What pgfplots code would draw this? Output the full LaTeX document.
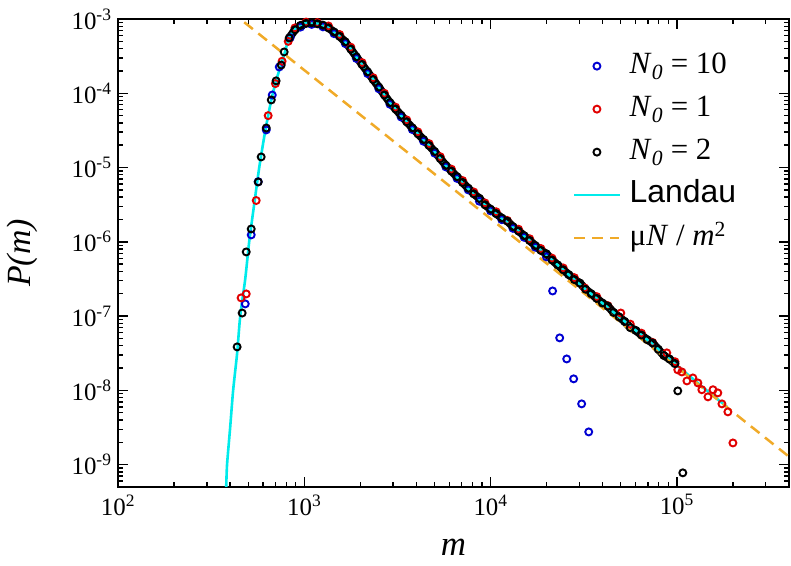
\documentclass[border=0pt]{standalone}
\usepackage{fontspec}
\setmainfont{Liberation Serif}
\setsansfont{Liberation Sans}
\usepackage{pgfplots}
\usepackage{pgfplotstable}
\pgfplotsset{compat=1.18}
\definecolor{cblue}{RGB}{0,0,210}
\definecolor{cred}{RGB}{225,0,0}
\definecolor{ccyan}{RGB}{0,235,235}
\definecolor{corange}{RGB}{240,170,40}

\pgfplotstableread[row sep=\\]{
m P\\
482 1.46e-7\\ 519 1.24e-6\\ 566 6.45e-6\\ 625 3.21e-5\\ 673 9.48e-5\\ 734 2.26e-4\\
840 5.6e-4\\ 955 7.79e-4\\ 1096 8.46e-4\\ 1259 7.85e-4\\ 1445 6.35e-4\\ 1660 4.67e-4\\
1905 2.94e-4\\ 2188 1.84e-4\\ 2512 1.15e-4\\ 2884 7.11e-5\\ 3311 4.79e-5\\ 3802 3.25e-5\\
4365 2.26e-5\\ 5012 1.56e-5\\ 5754 1.02e-5\\ 6607 7.14e-6\\ 7586 5.01e-6\\ 8710 3.52e-6\\
10000 2.61e-6\\ 11482 1.99e-6\\ 13183 1.52e-6\\ 15136 1.15e-6\\ 17378 8.46e-7\\ 19953 6.28e-7\\
21530 2.18e-7\\ 23500 5.09e-8\\ 25630 2.65e-8\\ 27930 1.43e-8\\ 30830 6.58e-9\\ 33650 2.76e-9\\
}\blue

\pgfplotstableread[row sep=\\]{
m P\\
458 1.76e-7\\ 488 1.99e-7\\ 552 3.6e-6\\ 640 5.0e-5\\ 700 1.35e-4\\ 760 2.7e-4\\ 820 5.0e-4\\
891 7.59e-4\\ 1023 9.1e-4\\ 1175 8.95e-4\\ 1349 8.05e-4\\ 1549 6.18e-4\\ 1778 4.17e-4\\
2042 2.59e-4\\ 2344 1.62e-4\\ 2692 1.00e-4\\ 3090 6.51e-5\\ 3548 4.38e-5\\ 4074 3.02e-5\\
4677 2.10e-5\\ 5370 1.40e-5\\ 6166 9.51e-6\\ 7079 6.68e-6\\ 8128 4.69e-6\\ 9333 3.34e-6\\
10715 2.54e-6\\ 12303 1.94e-6\\ 14125 1.48e-6\\ 16218 1.10e-6\\ 18621 8.13e-7\\ 21380 6.03e-7\\
24547 4.45e-7\\ 28184 3.29e-7\\ 31990 2.40e-7\\ 37154 1.83e-7\\ 42658 1.38e-7\\ 50000 1.10e-7\\
56234 7.80e-8\\ 64565 5.89e-8\\ 74131 4.42e-8\\ 88300 3.20e-8\\ 97724 2.43e-8\\
101150 1.89e-8\\ 106400 1.77e-8\\ 113240 1.34e-8\\ 121900 1.47e-8\\ 129700 1.26e-8\\
136200 1.02e-8\\ 146900 8.18e-9\\ 156300 1.02e-8\\ 165950 9.25e-9\\ 174600 6.58e-9\\
187900 5.14e-9\\ 200000 1.96e-9\\
}\red

\pgfplotstableread[row sep=\\]{
m P\\
830 5.55e-4\\ 891 7.16e-4\\ 955 8.20e-4\\ 1023 8.75e-4\\ 1096 8.91e-4\\ 1175 8.63e-4\\
1259 8.26e-4\\ 1349 7.59e-4\\ 1445 6.68e-4\\ 1549 5.83e-4\\ 1660 4.92e-4\\ 1778 3.93e-4\\
1905 3.09e-4\\ 2042 2.44e-4\\ 2188 1.94e-4\\ 2344 1.53e-4\\ 2512 1.21e-4\\ 2692 9.48e-5\\
2884 7.48e-5\\ 3090 6.14e-5\\ 3311 5.04e-5\\ 3548 4.13e-5\\ 3802 3.42e-5\\ 4074 2.85e-5\\
4365 2.38e-5\\ 4677 1.98e-5\\ 5012 1.64e-5\\ 5370 1.32e-5\\ 5754 1.07e-5\\ 6166 8.97e-6\\
6607 7.52e-6\\ 7079 6.30e-6\\ 7586 5.27e-6\\ 8128 4.42e-6\\ 8710 3.85e-6\\ 9333 3.15e-6\\
10000 2.75e-6\\ 10715 2.40e-6\\ 11482 2.09e-6\\ 12303 1.90e-6\\ 13183 1.60e-6\\ 14125 1.40e-6\\
15136 1.21e-6\\ 16218 1.04e-6\\ 17378 8.91e-7\\ 18621 7.67e-7\\ 19953 6.90e-7\\ 21380 5.69e-7\\
22909 4.89e-7\\ 24547 4.20e-7\\ 26303 3.61e-7\\ 28184 3.10e-7\\ 30200 2.78e-7\\ 32359 2.30e-7\\
34674 2.00e-7\\ 37154 1.73e-7\\ 39811 1.50e-7\\ 42658 1.36e-7\\ 45709 1.12e-7\\ 48978 9.75e-8\\
52481 8.47e-8\\ 56234 7.00e-8\\ 60256 6.40e-8\\ 64565 5.56e-8\\ 69183 4.83e-8\\ 74131 4.35e-8\\
79433 3.58e-8\\ 85114 2.95e-8\\ 91201 2.65e-8\\ 97724 2.29e-8\\
}\blackdense

\pgfplotstableread[row sep=\\]{
m P\\
436 3.85e-8\\ 464 1.10e-7\\ 488 7.31e-7\\ 519 1.49e-6\\ 566 6.40e-6\\ 587 1.39e-5\\
625 3.41e-5\\ 665 8.13e-5\\ 706 1.47e-4\\ 752 2.40e-4\\ 780 3.60e-4\\
101150 9.84e-9\\ 107650 7.76e-10\\
}\blackother

\pgfplotstableread[row sep=\\]{
m P\\
381 5.01e-10\\ 385 1.0e-9\\ 400 3.16e-9\\ 415 1.0e-8\\ 436 3.16e-8\\ 453 1.0e-7\\
482 3.16e-7\\ 506 1.0e-6\\ 538 3.16e-6\\ 573 1.0e-5\\ 617 3.1e-5\\ 665 8.13e-5\\
706 1.47e-4\\ 752 2.48e-4\\ 791 3.71e-4\\ 830 5.72e-4\\ 916 7.80e-4\\ 1000 8.70e-4\\
1091 8.91e-4\\ 1233 8.43e-4\\ 1361 7.50e-4\\ 1542 5.90e-4\\ 1683 4.75e-4\\ 1977 2.72e-4\\
2377 1.47e-4\\ 2864 7.64e-5\\ 3673 3.74e-5\\ 4875 1.78e-5\\ 5794 1.05e-5\\ 9057 3.34e-6\\
14320 1.36e-6\\ 20750 6.07e-7\\ 31260 2.47e-7\\ 47530 1.04e-7\\ 71610 4.50e-8\\
95060 2.42e-8\\ 133000 1.19e-8\\ 185800 6.00e-9\\
}\landau

\begin{document}
\begin{tikzpicture}
\path[use as bounding box] (-118bp,-79bp) rectangle (673bp,487bp);
\begin{axis}[
  scale only axis, width=671bp, height=468bp,
  xmode=log, ymode=log,
  xmin=100, xmax=4e5, ymin=5e-10, ymax=1e-3,
  axis line style={line width=2.4bp},
  tick align=inside,
  major tick length=10bp, minor tick length=5bp,
  every tick/.style={black, line width=1.4bp},
  xtick={1e2,1e3,1e4,1e5},
  xticklabels={10\textsuperscript{2},10\textsuperscript{3},10\textsuperscript{4},10\textsuperscript{5}},
  minor xtick={200,300,400,500,600,700,800,900,2000,3000,4000,5000,6000,7000,8000,9000,20000,30000,40000,50000,60000,70000,80000,90000,200000,300000},
  ytick={1e-9,1e-8,1e-7,1e-6,1e-5,1e-4,1e-3},
  yticklabels={10\textsuperscript{-9},10\textsuperscript{-8},10\textsuperscript{-7},10\textsuperscript{-6},10\textsuperscript{-5},10\textsuperscript{-4},10\textsuperscript{-3}},
  minor ytick={6e-10,7e-10,8e-10,9e-10,2e-9,3e-9,4e-9,5e-9,6e-9,7e-9,8e-9,9e-9,2e-8,3e-8,4e-8,5e-8,6e-8,7e-8,8e-8,9e-8,2e-7,3e-7,4e-7,5e-7,6e-7,7e-7,8e-7,9e-7,2e-6,3e-6,4e-6,5e-6,6e-6,7e-6,8e-6,9e-6,2e-5,3e-5,4e-5,5e-5,6e-5,7e-5,8e-5,9e-5,2e-4,3e-4,4e-4,5e-4,6e-4,7e-4,8e-4,9e-4},
  tick label style={font=\fontsize{25}{28}\selectfont},
  xticklabel style={yshift=-4bp},
  yticklabel style={xshift=-3bp},
  xlabel={\textit{m}},
  ylabel={\textit{P(m)}},
  xlabel style={font=\fontsize{35}{40}\selectfont, at={(axis description cs:0.5,-0.128)}, anchor=center},
  ylabel style={font=\fontsize{34}{40}\selectfont, at={(axis description cs:-0.142,0.5)}, anchor=center},
  legend cell align=left,
  legend style={draw=none, fill=none, at={(axis description cs:0.678,0.935)}, anchor=north west,
    font=\fontsize{31}{33}\selectfont, inner sep=0pt, row sep=10bp,
    nodes={inner sep=2bp, text height=22bp, text depth=7bp}},
  legend image code/.code={\draw[mark repeat=2, mark phase=2, #1] plot coordinates {(0bp,0bp) (22.5bp,0bp) (45bp,0bp)}; \path (52bp,0bp);},
]
\addplot[only marks, mark=o, mark size=3.5bp, cblue, mark options={line width=1.9bp}] table[x=m, y=P] {\blue};
\addlegendentry{\textit{N}\textsubscript{\textit{0}} = 10}
\addplot[only marks, mark=o, mark size=3.5bp, cred, mark options={line width=1.9bp}] table[x=m, y=P] {\red};
\addlegendentry{\textit{N}\textsubscript{\textit{0}} = 1}
\addplot[forget plot, black, line width=8bp, line join=round, line cap=round] table[x=m, y=P] {\blackdense};
\addplot[only marks, mark=o, mark size=3.5bp, black, mark options={line width=1.9bp}] table[x=m, y=P] {\blackdense};
\addlegendentry{\textit{N}\textsubscript{\textit{0}} = 2}
\addplot[forget plot, only marks, mark=o, mark size=3.5bp, black, mark options={line width=1.9bp}] table[x=m, y=P] {\blackother};
\addplot[ccyan, line width=2.6bp, smooth, tension=0.4] table[x=m, y=P] {\landau};
\addlegendentry{{\sffamily\fontsize{32}{33}\selectfont Landau}}
\addplot[corange, line width=2.5bp, dash pattern=on 11bp off 7bp] coordinates {(400,1.281e-3) (4e5,1.281e-9)};
\addlegendentry{μ\textit{N} / \textit{m}\textsuperscript{2}}
\end{axis}
\end{tikzpicture}
\end{document}
